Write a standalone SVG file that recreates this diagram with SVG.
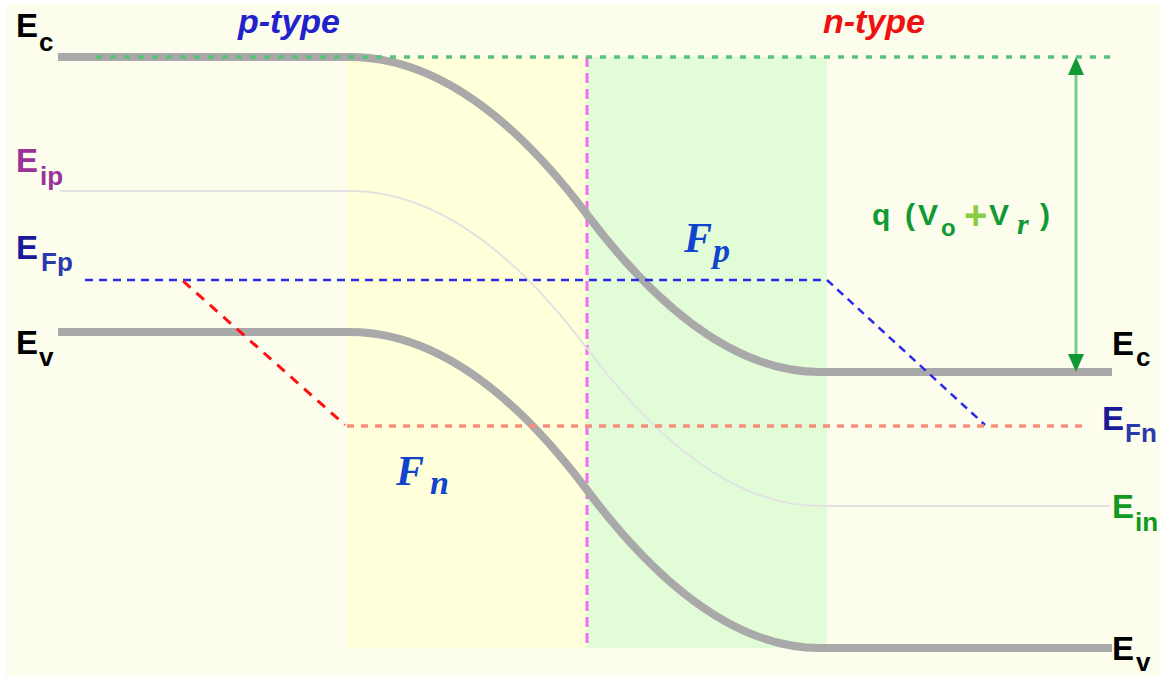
<svg xmlns="http://www.w3.org/2000/svg" width="1161" height="678" viewBox="0 0 1161 678">
<style>
.band{fill:none;stroke:#a9a9a9;stroke-width:8}
.ei{fill:none;stroke:#e2e2e2;stroke-width:2}
.lbl{font-family:"Liberation Sans",Arial,sans-serif;font-weight:bold;font-size:33px}
.sub{font-size:26px}
.blue{fill:none;stroke:#2a2ae8;stroke-width:2.5;stroke-dasharray:8 6}
.math{font-family:"Liberation Serif","Times New Roman",serif;font-weight:bold;font-style:italic;fill:#1144cc}
</style>
<rect x="0" y="0" width="1161" height="678" fill="#ffffff"/>
<rect x="6" y="4" width="1155" height="673" fill="#fdfdee"/>
<g id="regions">
<rect id="p-depletion" x="347" y="57" width="240" height="591" fill="#ffffd9"/>
<rect id="n-depletion" x="587" y="57" width="240" height="591" fill="#e2fcd8"/>
</g>
<g id="junction">
<line x1="587" y1="57" x2="587" y2="648" stroke="#f46cf0" stroke-width="3" stroke-dasharray="10 6"/>
</g>
<g id="Ei-level"><path class="ei" d="M60,191 L350,191 Q468.5,191 587,348.5 T820,506 L1110,506"/></g>
<g id="Ec-band"><path class="band" d="M58,57 L350,57 Q468.5,57 587,214.5 T820,372 L1112,372"/></g>
<g id="Ev-band"><path class="band" d="M58,332 L350,332 Q468.5,332 587,490 T820,648 L1112,648"/></g>
<g id="connectors">
<line x1="96" y1="57" x2="1116" y2="57" stroke="#5cc07e" stroke-width="3.5" stroke-dasharray="6 8"/>
<path class="blue" d="M85,280 L827,280 L985,425"/>
<line x1="183" y1="281" x2="345" y2="425" stroke="#ff1010" stroke-width="3" stroke-dasharray="10 8"/>
<line x1="347" y1="426" x2="1085" y2="426" stroke="#f4907a" stroke-width="3.5" stroke-dasharray="7 7"/>
<line x1="1076" y1="66" x2="1076" y2="363" stroke="#77cc8c" stroke-width="3"/>
<path d="M1076,57 L1084,75 L1068,75 Z" fill="#119933"/>
<path d="M1076,372 L1084,354 L1068,354 Z" fill="#119933"/>
</g>
<g id="label-Ec-left" class="lbl"><text x="16" y="37" fill="#000">E<tspan class="sub" x="39" y="51">c</tspan></text></g>
<g id="label-Eip" class="lbl"><text x="16" y="172" fill="#993399">E<tspan class="sub" x="40" y="185">ip</tspan></text></g>
<g id="label-EFp" class="lbl"><text x="16" y="259" fill="#1a1a99">E<tspan class="sub" x="41" y="271" fill="#2a3aaa">Fp</tspan></text></g>
<g id="label-Ev-left" class="lbl"><text x="16" y="354" fill="#000">E<tspan class="sub" x="39" y="366">v</tspan></text></g>
<g id="label-Ec-right" class="lbl"><text x="1112" y="355" fill="#000">E<tspan class="sub" x="1136" y="366">c</tspan></text></g>
<g id="label-EFn" class="lbl"><text x="1102" y="430" fill="#1a1a99">E<tspan class="sub" x="1125" y="442" fill="#2a3aaa">Fn</tspan></text></g>
<g id="label-Ein" class="lbl"><text x="1112" y="518" fill="#119922">E<tspan class="sub" x="1135" y="531">in</tspan></text></g>
<g id="label-Ev-right" class="lbl"><text x="1112" y="660" fill="#000">E<tspan class="sub" x="1136" y="671">v</tspan></text></g>
<g id="label-ptype"><text x="238" y="33" font-family="Liberation Sans,Arial,sans-serif" font-weight="bold" font-style="italic" font-size="34" fill="#2222cc">p-type</text></g>
<g id="label-ntype"><text x="823" y="33" font-family="Liberation Sans,Arial,sans-serif" font-weight="bold" font-style="italic" font-size="34" fill="#ee1111">n-type</text></g>
<g id="label-potential" font-family="Liberation Sans,Arial,sans-serif" font-weight="bold" fill="#119933">
<text y="225" font-size="30"><tspan x="872">q</tspan><tspan x="905">(</tspan><tspan x="918">V</tspan><tspan x="941" y="236" font-size="24">o</tspan></text>
<text x="964" y="229" font-size="40" fill="#88cc44">+</text>
<text y="225" font-size="30"><tspan x="989">V</tspan><tspan x="1040">)</tspan></text>
<text x="1017" y="234" font-family="Liberation Serif,Times New Roman,serif" font-style="italic" font-size="30">r</text>
</g>
<g id="label-Fp"><text class="math" x="684" y="252" font-size="42">F<tspan x="713" y="262" font-size="34">p</tspan></text></g>
<g id="label-Fn"><text class="math" x="396" y="485" font-size="42">F<tspan x="430" y="494" font-size="34">n</tspan></text></g>
</svg>
